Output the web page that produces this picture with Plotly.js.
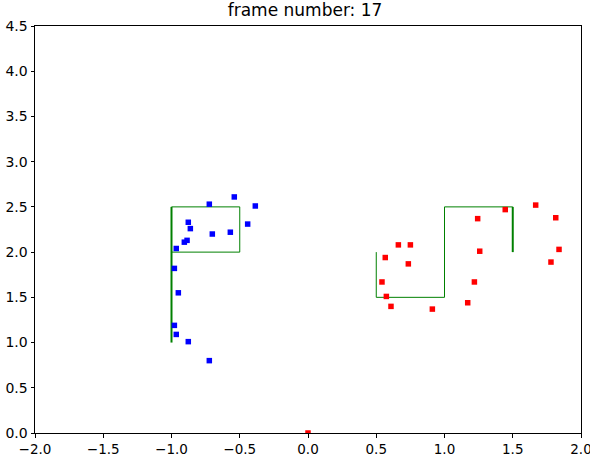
<!DOCTYPE html>
<html>
<head>
<meta charset="utf-8">
<script src="https://cdn.plot.ly/plotly-3.0.1.min.js"></script>
<style>body{margin:0;} #chart{width:590px;height:456px;}</style>
</head>
<body>
<div id="chart"></div>
<script>
var blueX = [-0.54, -0.723, -0.386, -0.877, -0.442, -0.862, -0.701, -0.569, -0.886, -0.906, -0.965, -0.979, -0.950, -0.979, -0.965, -0.877, -0.723];
var blueY = [2.61, 2.53, 2.51, 2.33, 2.31, 2.26, 2.20, 2.22, 2.13, 2.11, 2.04, 1.82, 1.55, 1.19, 1.09, 1.01, 0.80];

var redX = [1.668, 1.445, 1.815, 1.243, 1.839, 1.258, 1.780, 0.662, 0.750, 0.566, 0.735, 0.542, 1.219, 0.574, 0.608, 0.911, 1.170, 0.0];
var redY = [2.52, 2.47, 2.38, 2.37, 2.03, 2.01, 1.89, 2.08, 2.08, 1.94, 1.87, 1.67, 1.67, 1.51, 1.40, 1.37, 1.44, 0.0];

// wall outlines
var leftBoxX = [-1.0, -0.5, -0.5, -1.0];
var leftBoxY = [2.5, 2.5, 2.0, 2.0];
var leftPostX = [-1.0, -1.0];
var leftPostY = [1.0, 2.5];

var rightPathX = [0.5, 0.5, 1.0, 1.0, 1.5];
var rightPathY = [2.0, 1.5, 1.5, 2.5, 2.5];
var rightPostX = [1.5, 1.5];
var rightPostY = [2.5, 2.0];

var green = 'rgb(0,128,0)';

var data = [
  {x: leftBoxX, y: leftBoxY, mode: 'lines', line: {color: green, width: 1}, hoverinfo: 'skip'},
  {x: leftPostX, y: leftPostY, mode: 'lines', line: {color: green, width: 2}, hoverinfo: 'skip'},
  {x: rightPathX, y: rightPathY, mode: 'lines', line: {color: green, width: 1}, hoverinfo: 'skip'},
  {x: rightPostX, y: rightPostY, mode: 'lines', line: {color: green, width: 2}, hoverinfo: 'skip'},
  {x: blueX, y: blueY, mode: 'markers', marker: {symbol: 'square', size: 5.5, color: 'blue'}},
  {x: redX, y: redY, mode: 'markers', marker: {symbol: 'square', size: 5.5, color: 'red'}}
];

var axisBase = {
  showgrid: false,
  zeroline: false,
  showline: true,
  mirror: true,
  linecolor: 'black',
  linewidth: 1,
  ticks: 'outside',
  ticklen: 3.5,
  tickcolor: 'black',
  tickformat: '.1f',
  ticklabeloverflow: 'allow',
  tickfont: {family: 'DejaVu Sans', size: 14, color: 'black'}
};

var layout = {
  width: 590,
  height: 456,
  showlegend: false,
  paper_bgcolor: 'white',
  plot_bgcolor: 'white',
  margin: {l: 35, r: 9, t: 26, b: 23},
  title: {text: 'frame number: 17', x: 0.517, xanchor: 'center', y: 0.978, yanchor: 'middle',
    font: {family: 'DejaVu Sans', size: 17, color: 'black'}},
  xaxis: Object.assign({}, axisBase, {range: [-2, 2], dtick: 0.5, tick0: -2,
    tickfont: {family: 'DejaVu Sans', size: 13.5, color: 'black'}}),
  yaxis: Object.assign({}, axisBase, {range: [0, 4.5], dtick: 0.5, tick0: 0})
};

Plotly.newPlot('chart', data, layout, {displayModeBar: false});
</script>
</body>
</html>
